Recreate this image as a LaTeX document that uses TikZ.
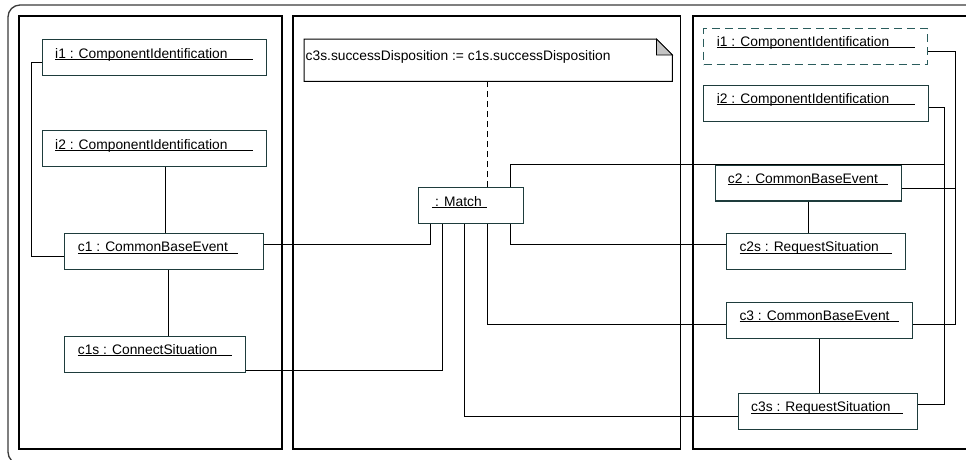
\documentclass[tikz,border=0pt]{standalone}
\usepackage{fontspec}
\setmainfont{Liberation Sans}
\definecolor{boxcol}{HTML}{1E3C3C}
\definecolor{dashcol}{HTML}{2A5C5C}
\definecolor{framecol}{HTML}{3A3A3A}
\definecolor{foldcol}{HTML}{C4C4C4}
\newcommand\lbfont{\fontsize{13.8}{16}\selectfont}
% underlined label: rule of the given width, drawn just under the baseline
\newcommand\ulw[2]{\rlap{\rule[-1.8pt]{#1}{0.9pt}}#2}
\begin{document}
\begin{tikzpicture}[x=1pt,y=-1pt,
  obj/.style={draw=boxcol, line width=1.2pt, anchor=north west, inner sep=0pt, fill=white},
  dobj/.style={obj, draw=dashcol, line width=1.3pt, dash pattern=on 8pt off 5pt},
  lbl/.style={anchor=base west, inner sep=0pt, font=\lbfont, text=black},
  link/.style={line width=0.9pt, draw=black},
  panel/.style={draw=black, line width=1.2pt},
]
\clip (0,0) rectangle (966,459);

% outer frame and the three panels
\draw[draw=framecol, line width=1.3pt, rounded corners=12pt] (8,5) rectangle (985,464);
\draw[panel] (19,16) rectangle (282,449);
\draw[panel] (293,16) rectangle (680.5,449);
\draw[panel] (693,16) rectangle (985,449);

% note
\node[anchor=north west, minimum width=368pt, minimum height=42pt, inner sep=0pt] (note) at (304,39) {};
\draw[line width=1pt] (note.north west) -- ([xshift=-16pt]note.north east)
  -- ([yshift=-16pt]note.north east) -- (note.south east) -- (note.south west) -- cycle;
\filldraw[fill=foldcol, draw=black, line width=0.8pt] ([xshift=-16pt]note.north east)
  -- ([xshift=-16pt,yshift=-16pt]note.north east) -- ([yshift=-16pt]note.north east) -- cycle;
\node[lbl] (notet) at ([xshift=1.5pt,yshift=-21.5pt]note.north west)
  {c3s.successDisposition := c1s.successDisposition};

% left panel objects
\node[obj, minimum width=224pt, minimum height=36pt] (i1L) at (42,39) {};
\node[lbl] (i1Lt) at ([xshift=13pt,yshift=-19.5pt]i1L.north west) {\ulw{198pt}{i1 : ComponentIdentification}};
\node[obj, minimum width=224pt, minimum height=36pt] (i2L) at (42,130) {};
\node[lbl] (i2Lt) at ([xshift=13pt,yshift=-19.5pt]i2L.north west) {\ulw{198pt}{i2 : ComponentIdentification}};
\node[obj, minimum width=199pt, minimum height=36pt] (c1) at (64,233) {};
\node[lbl] (c1t) at ([xshift=13.7pt,yshift=-18.7pt]c1.north west) {\ulw{160pt}{c1 : CommonBaseEvent}};
\node[obj, minimum width=181pt, minimum height=36pt] (c1s) at (64,336) {};
\node[lbl] (c1st) at ([xshift=13.7pt,yshift=-18.3pt]c1s.north west) {\ulw{154pt}{c1s : ConnectSituation}};

% middle panel object
\node[obj, minimum width=105pt, minimum height=36pt] (match) at (418,187) {};
\node[lbl] (matcht) at ([xshift=13.7pt,yshift=-19pt]match.north west) {\ulw{55pt}{\hspace{3.3pt}: Match}};

% right panel objects
\node[dobj, minimum width=224pt, minimum height=36pt] (i1R) at (703,28) {};
\node[lbl] (i1Rt) at ([xshift=13.7pt,yshift=-18pt]i1R.north west) {\ulw{197.6pt}{i1 : ComponentIdentification}};
\node[obj, minimum width=224.5pt, minimum height=36pt] (i2R) at (703,85) {};
\node[lbl] (i2Rt) at ([xshift=13.7pt,yshift=-18.3pt]i2R.north west) {\ulw{197.6pt}{i2 : ComponentIdentification}};
\node[obj, minimum width=186pt, minimum height=36pt] (c2) at (715,164.3) {};
\node[lbl] (c2t) at ([xshift=12.7pt,yshift=-19pt]c2.north west) {\ulw{159.6pt}{c2 : CommonBaseEvent}};
\node[obj, minimum width=179pt, minimum height=36pt] (c2s) at (726,232.7) {};
\node[lbl] (c2st) at ([xshift=13.3pt,yshift=-19pt]c2s.north west) {\ulw{152.4pt}{c2s : RequestSituation}};
\node[obj, minimum width=186pt, minimum height=36pt] (c3) at (726,301.7) {};
\node[lbl] (c3t) at ([xshift=13.3pt,yshift=-18.3pt]c3.north west) {\ulw{159.7pt}{c3 : CommonBaseEvent}};
\node[obj, minimum width=179pt, minimum height=36pt] (c3s) at (738,392.7) {};
\node[lbl] (c3st) at ([xshift=13pt,yshift=-19pt]c3s.north west) {\ulw{151.7pt}{c3s : RequestSituation}};

% note anchor line
\draw[line width=1pt, dash pattern=on 6pt off 4pt] ([xshift=16.2pt]match.north) -- ([xshift=16.2pt]match.north |- note.south);

% left panel links
\draw[link] ([yshift=-5pt]i1L.west) -- ++(-11,0) |- ([yshift=-5pt]c1.west);
\draw[link] ([xshift=11pt]i2L.south) -- ([xshift=11pt]i2L.south |- c1.north);
\draw[link] ([xshift=4.5pt]c1.south) -- ([xshift=4.5pt]c1.south |- c1s.north);

% links to the match object
\draw[link] ([yshift=7pt]c1.east) -| ([xshift=-40.5pt]match.south);
\draw[link] ([yshift=-16pt]c1s.east) -| ([xshift=-28.8pt]match.south);
\draw[link] ([xshift=39.5pt]match.south) |- ([yshift=7pt]c2s.west);
\draw[link] ([xshift=16.5pt]match.south) |- ([yshift=-4.5pt]c3.west);
\draw[link] ([xshift=-6.8pt]match.south) |- ([yshift=-4.7pt]c3s.west);

% right panel links
\draw[link] ([yshift=-5pt]i1R.east) -- ++(27,0) coordinate (i1Rb) |- ([yshift=-4.5pt]c3.east);
\draw[link] ([yshift=-6pt]c2.east) -- ([yshift=-6pt]c2.east -| i1Rb);
\draw[link] ([yshift=-4pt]i2R.east) -- ++(15.5,0) coordinate (i2Rb) |- ([yshift=7pt]c3s.east);
\draw[link] ([xshift=39.5pt]match.north) |- (i2Rb |- c2.north);
\draw[link] (c2.south) -- (c2.south |- c2s.north);
\draw[link] (c3.south) -- (c3.south |- c3s.north);
\end{tikzpicture}
\end{document}
